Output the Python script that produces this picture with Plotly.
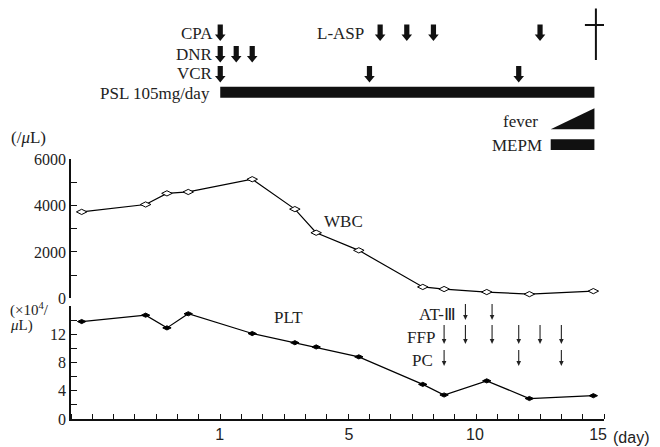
import plotly.graph_objects as go

# ---------------- data ----------------
days = [0.5, 3.5, 4.5, 5.5, 8.5, 10.5, 11.5, 13.5, 16.5, 17.5, 19.5, 21.5, 24.5]
wbc = [3730, 4050, 4530, 4590, 5140, 3850, 2830, 2070, 490, 400, 270, 180, 310]
plt_vals = [13.8, 14.7, 12.9, 14.9, 12.1, 10.8, 10.2, 8.8, 4.9, 3.4, 5.4, 2.9, 3.3]

x_tick_pos = [6.97, 13.04, 18.95, 24.72]
x_tick_text = ["1", "5", "10", "15"]
wbc_ticks = [0, 2000, 4000, 6000]
plt_ticks = [0, 4, 8, 12]

cpa_days = [7.0]
dnr_days = [7.0, 7.75, 8.5]
vcr_days = [7.0, 14.0, 21.0]
lasp_days = [14.5, 15.75, 17.0, 22.0]
psl_start, end_day = 7.0, 24.55
fever_start, mepm_start = 22.5, 22.5
death_day = 24.62
at3_days = [18.5, 19.75]
ffp_days = [17.5, 18.5, 19.75, 21.0, 22.0, 23.0]
pc_days = [17.5, 21.0, 23.0]

# ---------------- layout constants (screen pixels) ----------------
SW, SH = 660, 447        # screen size
OFF = 8                  # page body margin
W, H = SW - OFF, SH - OFF
XL, XR = 71, 604
XMAX = 25.0
PXU = (XR - XL) / XMAX   # pixels per x unit
SERIF = "Liberation Serif, Times New Roman, serif"
SANS = "Liberation Sans, Arial, sans-serif"
TXT = "#222222"
INK = "#111111"


def px(p):
    return (p - OFF) / W


def py(p):
    return 1 - (p - OFF) / H


def dx(p):
    return p / PXU


fig = go.Figure()

fig.add_trace(go.Scatter(
    x=days, y=wbc, xaxis="x", yaxis="y", mode="lines+markers",
    line=dict(color="black", width=1.2),
    marker=dict(symbol="diamond-wide", size=7.5, color="white",
                line=dict(color="black", width=1)),
    showlegend=False, hoverinfo="skip"))

fig.add_trace(go.Scatter(
    x=days, y=plt_vals, xaxis="x", yaxis="y2", mode="lines+markers",
    line=dict(color="black", width=1.2),
    marker=dict(symbol="diamond-wide", size=6, color="black",
                line=dict(color="black", width=1)),
    showlegend=False, hoverinfo="skip"))

shapes = []
annotations = []


def poly(pts, color=INK):
    path = "M " + " L ".join(f"{x:.4f},{py(y):.5f}" for x, y in pts) + " Z"
    shapes.append(dict(type="path", xref="x", yref="paper", path=path,
                       fillcolor=color, line=dict(width=0), layer="above"))


def block_arrow(d, top):
    sw, hw, sh, tl = 2.6, 5.3, 10, 16.5
    poly([(d - dx(sw), top), (d + dx(sw), top), (d + dx(sw), top + sh),
          (d + dx(hw), top + sh), (d, top + tl), (d - dx(hw), top + sh),
          (d - dx(sw), top + sh)])


def thin_arrow(d, tail, tip):
    shapes.append(dict(type="line", xref="x", yref="paper", x0=d, x1=d,
                       y0=py(tail), y1=py(tip - 3), line=dict(color="#222222", width=1.1)))
    poly([(d - dx(2.3), tip - 5), (d + dx(2.3), tip - 5), (d, tip)], color="#222222")


for d in cpa_days:
    block_arrow(d, 24.5)
for d in dnr_days:
    block_arrow(d, 46)
for d in vcr_days:
    block_arrow(d, 66)
for d in lasp_days:
    block_arrow(d, 24.5)

for d in at3_days:
    thin_arrow(d, 304, 320)
for d in ffp_days:
    thin_arrow(d, 325, 344)
for d in pc_days:
    thin_arrow(d, 350, 366)

# PSL bar
shapes.append(dict(type="rect", xref="x", yref="paper", x0=psl_start, x1=end_day,
                   y0=py(97.7), y1=py(86.7), fillcolor=INK, line=dict(width=0)))
# fever triangle
poly([(fever_start, 129.3), (end_day, 108.3), (end_day, 129.3)])
# MEPM bar
shapes.append(dict(type="rect", xref="x", yref="paper", x0=mepm_start, x1=end_day,
                   y0=py(150), y1=py(139.3), fillcolor=INK, line=dict(width=0)))
# cross
shapes.append(dict(type="line", xref="x", yref="paper", x0=death_day, x1=death_day,
                   y0=py(8.5), y1=py(60), line=dict(color=INK, width=2)))
shapes.append(dict(type="line", xref="x", yref="paper", x0=death_day - dx(11),
                   x1=death_day + dx(11), y0=py(25), y1=py(25),
                   line=dict(color=INK, width=2)))


def label(text, xpx, ypx, anchor="right", font=SERIF, size=17):
    annotations.append(dict(text=text, x=px(xpx), y=py(ypx), xref="paper", yref="paper",
                            xanchor=anchor, yanchor="middle", showarrow=False,
                            font=dict(family=font, size=size, color=TXT)))


label("CPA", 215, 33)
label("DNR", 215, 54)
label("VCR", 215, 74)
label("PSL 105mg/day", 212, 93)
label("L-ASP", 366, 33)
label("fever", 540, 121)
label("MEPM", 544, 145)
label("WBC", 343, 222, anchor="center")
label("PLT", 288, 317, anchor="center")
label("AT-Ⅲ", 458, 314)
label("FFP", 437, 337)
label("PC", 435, 360)
label("(/<i>μ</i>L)", 9, 138, anchor="left")
label("(×10<sup>4</sup>/", 8, 309, anchor="left", size=15)
label("<i>μ</i>L)", 8, 325, anchor="left", size=15)
label("(day)", 611, 437, anchor="left", font=SANS, size=16)

axis_common = dict(showline=True, linecolor=INK, linewidth=1.5, showgrid=False,
                   zeroline=False, automargin=False)

fig.update_layout(
    width=W, height=H, margin=dict(l=0, r=0, t=0, b=0, pad=0, autoexpand=False),
    paper_bgcolor="white", plot_bgcolor="white",
    shapes=shapes, annotations=annotations,
    xaxis=dict(domain=[px(XL), px(XR)], range=[0, XMAX], anchor="y2",
               tickmode="array", tickvals=x_tick_pos, ticktext=x_tick_text, ticks="",
               minor=dict(tickmode="linear", tick0=0, dtick=1, ticks="inside", ticklen=5,
                          tickcolor=INK, tickwidth=1, showgrid=False),
               tickfont=dict(family=SANS, size=16, color=TXT), **axis_common),
    yaxis=dict(domain=[py(298.3), py(159.3)], range=[0, 6000], anchor="x",
               tickmode="array", tickvals=wbc_ticks, ticks="inside", ticklen=6,
               tickcolor=INK, tickwidth=1,
               minor=dict(tickmode="linear", tick0=0, dtick=1000, ticks="inside", ticklen=6,
                          tickcolor=INK, tickwidth=1, showgrid=False),
               tickfont=dict(family=SERIF, size=16, color=TXT), **axis_common),
    yaxis2=dict(domain=[py(419), py(306)], range=[0, 16], anchor="x",
                tickmode="array", tickvals=plt_ticks,
                ticks="inside", ticklen=6, tickcolor=INK, tickwidth=1,
                minor=dict(tickmode="linear", tick0=0, dtick=2, ticks="inside", ticklen=6,
                           tickcolor=INK, tickwidth=1, showgrid=False),
                tickfont=dict(family=SERIF, size=16, color=TXT), **axis_common),
)

fig.write_html("out.html")
